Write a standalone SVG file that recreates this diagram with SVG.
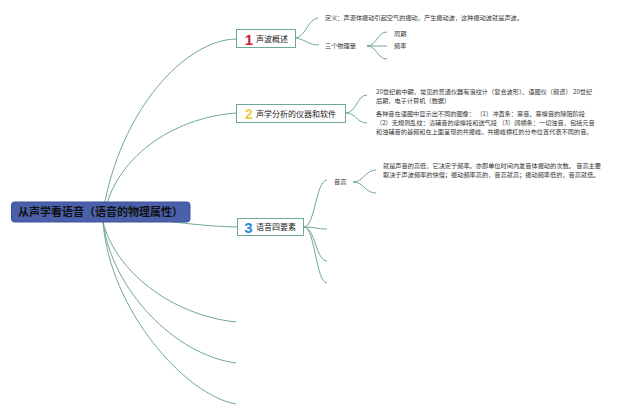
<svg xmlns="http://www.w3.org/2000/svg" width="640" height="416" viewBox="0 0 640 416">
<style>
.c{fill:none;stroke:#6fa898;stroke-width:1}
.box{fill:#fff;stroke:#6fa898;stroke-width:1}
.t{font-family:"Noto Sans CJK SC","Noto Sans",sans-serif;font-size:6.2px;fill:#333}
.lbl{font-family:"Noto Sans CJK SC","Noto Sans",sans-serif;font-size:8px;fill:#222}
.num{font-family:"Liberation Sans",Arial,sans-serif;font-weight:bold;text-anchor:middle}
.root{font-family:"Noto Sans CJK SC","Noto Sans",sans-serif;font-size:11px;font-weight:bold;fill:#111}
</style>
<rect width="640" height="416" fill="#fff"/>
<g id="connectors">
<path class="c" d="M103,212 C120,110 185,40 236,39"/>
<path class="c" d="M105,212 C115,160 170,118 236,113"/>
<path class="c" d="M104,212 C170,222 200,226 237,227"/>
<path class="c" d="M103,222 C115,270 170,315 236,322"/>
<path class="c" d="M103,222 C112,290 175,355 236,363"/>
<path class="c" d="M103,222 C110,310 185,395 236,404"/>
<path class="c" d="M296,38 C306,36 308,19 318,18"/>
<path class="c" d="M296,38 C306,40 309,45 319,45"/>
<path class="c" d="M367,46 C377,46 377,32 387,32"/>
<path class="c" d="M367,46 C377,46 377,46 387,46"/>
<path class="c" d="M367,46 C377,46 377,59 387,59"/>
<path class="c" d="M346,113 C356,113 357,95 367,95"/>
<path class="c" d="M346,113 C356,113 357,123 367,123"/>
<path class="c" d="M304,227 C315,227 316,180 327,180"/>
<path class="c" d="M304,227 C315,227 316,229 327,229"/>
<path class="c" d="M304,227 C315,227 316,261 327,261"/>
<path class="c" d="M304,227 C315,227 316,283 327,283"/>
<path class="c" d="M353,182 C364,182 365,170 376,170"/>
<path class="c" d="M353,182 C364,182 365,193 376,193"/>
</g>
<g id="root">
<rect x="11.5" y="202" width="178.5" height="20" rx="3" fill="#4a60aa" stroke="#3f5399"/>
<text class="root" x="18" y="216">从声学看语音（语音的物理属性）</text>
</g>
<g id="node1">
<rect class="box" x="236.5" y="29.5" width="59" height="18"/>
<text class="num" x="249" y="45" font-size="15" fill="#d0213d">1</text>
<text class="lbl" x="256" y="41.5">声波概述</text>
</g>
<g id="node1-def"><text class="t" x="325" y="20.4">定义：声源体振动引起空气的振动，产生振动波，这种振动波就是声波。</text></g>
<g id="node1-qty"><text class="t" x="325" y="48.4">三个物理量</text></g>
<g id="node1-period"><text class="t" x="394" y="35.6">周期</text></g>
<g id="node1-freq"><text class="t" x="394" y="48.4">频率</text></g>
<g id="node2">
<rect class="box" x="236.5" y="104.5" width="109" height="18"/>
<text class="num" x="249" y="118.5" font-size="14" fill="#f3cd3e">2</text>
<text class="lbl" x="256" y="116.5">声学分析的仪器和软件</text>
</g>
<g id="node2-a">
<text class="t" x="376" y="94.4">20世纪前中期，常见的普通仪器有浪纹计（复合波形）、语图仪（频谱） 20世纪</text>
<text class="t" x="376" y="103.4">后期，电子计算机（数据）</text>
</g>
<g id="node2-b">
<text class="t" x="376" y="116.4">各种音在语图中显示出不同的图像： （1）冲直条：塞音、塞擦音的除阻阶段</text>
<text class="t" x="376" y="125.4"> （2）无规则乱纹：清辅音的摩擦段和送气段 （3）阔横条：一切浊音，包括元音</text>
<text class="t" x="376" y="134.4">和浊辅音的基频和在上面呈现的共振峰。共振峰横杠的分布位置代表不同的音。</text>
</g>
<g id="node3">
<rect class="box" x="237.5" y="218.5" width="66" height="17"/>
<text class="num" x="248.5" y="232.5" font-size="15" fill="#1e8fd6">3</text>
<text class="lbl" x="256" y="230">语音四要素</text>
</g>
<g id="node3-pitch"><text class="t" x="334" y="184.4">音高</text></g>
<g id="node3-pitch-def">
<text class="t" x="383" y="168.2">就是声音的高低，它决定于频率。亦即单位时间内发音体振动的次数。 音高主要</text>
<text class="t" x="383" y="176.6">取决于声波频率的快慢；振动频率高的，音高就高；振动频率低的，音高就低。</text>
</g>
</svg>
